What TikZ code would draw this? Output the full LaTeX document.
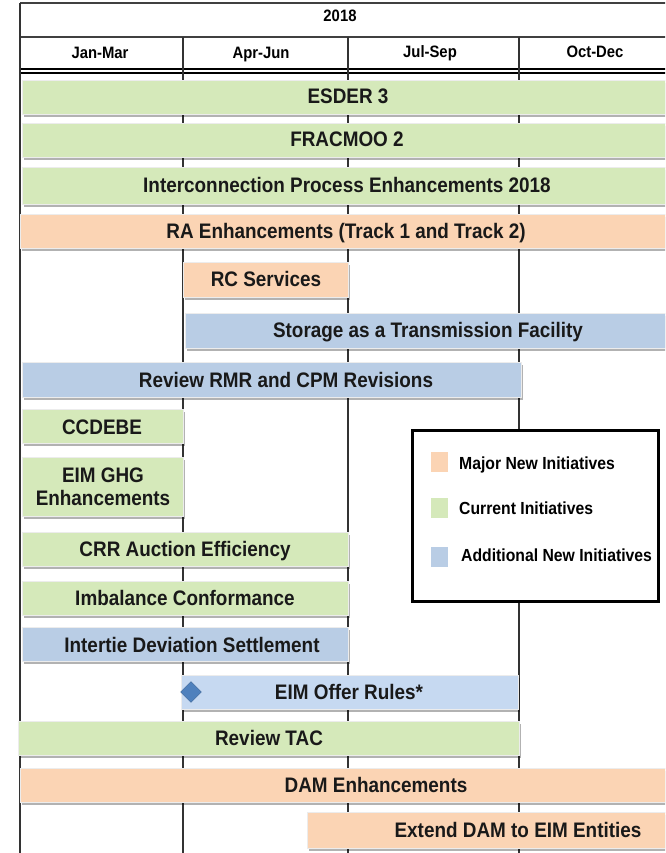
\documentclass[tikz,border=0pt]{standalone}
\usepackage{fontspec}
\setmainfont{Liberation Sans}[FakeStretch=0.9]
\usetikzlibrary{shapes.geometric,shadows}
\definecolor{cgreen}{HTML}{D5E9BA}
\definecolor{corange}{HTML}{FBD4B4}
\definecolor{cblue}{HTML}{B9CDE5}
\definecolor{cblueb}{HTML}{C6D9F1}
\definecolor{cdia}{HTML}{4F81BD}
\tikzset{
  bar/.style={draw=white!85!gray, line width=0.6pt, minimum height=34pt, inner sep=0pt, anchor=north west,
    drop shadow={shadow xshift=2pt, shadow yshift=-3pt, fill=black, opacity=0.3}},
  btxt/.style={font=\bfseries\fontsize{21}{24}\selectfont, inner sep=0pt, text=black!90, anchor=base},
  htxt/.style={font=\bfseries\fontsize{16.5}{19}\selectfont, inner sep=0pt, anchor=base},
  ltxt/.style={font=\bfseries\fontsize{17.5}{20}\selectfont, inner sep=0pt, anchor=base west},
  swatch/.style={minimum width=17pt, minimum height=20pt, inner sep=0pt},
  grid/.style={line width=1.1pt, black!80},
}
\begin{document}
\begin{tikzpicture}[x=1pt,y=-1pt]
\useasboundingbox (0,0) rectangle (665,853);
\begin{scope}
\clip (0,0) rectangle (665,853);
% header
\draw[line width=1.2pt, black!75] (20,3) -- (700,3);
\draw[line width=1.2pt, black!75] (20,37) -- (700,37);
\draw[line width=2pt] (20,69.5) -- (700,69.5);
\draw[line width=1.5pt] (20,73) -- (700,73);
\draw[grid] (20,3) -- (20,853);
\draw[grid] (183,37) -- (183,853);
\draw[grid] (348,37) -- (348,853);
\draw[grid] (519,37) -- (519,853);
\node[htxt] (h2018) at (340,22) {2018};
\node[htxt] (q1) at (100,59) {Jan-Mar};
\node[htxt] (q2) at (261,59) {Apr-Jun};
\node[htxt] (q3) at (430,58) {Jul-Sep};
\node[htxt] (q4) at (595,58) {Oct-Dec};
% bars
\node[bar, fill=cgreen, minimum width=700pt] (b1) at (22,80) {};
\node[btxt] (t1) at (348,104) {ESDER 3};
\node[bar, fill=cgreen, minimum width=700pt] (b2) at (22,123) {};
\node[btxt] (t2) at (347,147) {FRACMOO 2};
\node[bar, fill=cgreen, minimum width=700pt, minimum height=37pt] (b3) at (22,167) {};
\node[btxt] (t3) at (347,193) {Interconnection Process Enhancements 2018};
\node[bar, fill=corange, minimum width=700pt] (b4) at (20,214) {};
\node[btxt] (t4) at (346,238) {RA Enhancements (Track 1 and Track 2)};
\node[bar, fill=corange, minimum width=165pt, minimum height=35pt] (b5) at (183,262) {};
\node[btxt] (t5) at (266,286) {RC Services};
\node[bar, fill=cblue, minimum width=600pt, minimum height=35pt] (b6) at (185,313) {};
\node[btxt] (t6) at (428,337) {Storage as a Transmission Facility};
\node[bar, fill=cblue, minimum width=499pt, minimum height=35pt] (b7) at (22,362) {};
\node[btxt] (t7) at (286,387) {Review RMR and CPM Revisions};
\node[bar, fill=cgreen, minimum width=161pt] (b8) at (22,409) {};
\node[btxt] (t8) at (102,434) {CCDEBE};
\node[bar, fill=cgreen, minimum width=161pt, minimum height=59pt] (b9) at (22,457) {};
\node[btxt] (t9a) at (103,482) {EIM GHG};
\node[btxt] (t9b) at (103,505) {Enhancements};
\node[bar, fill=cgreen, minimum width=326pt] (b10) at (22,532) {};
\node[btxt] (t10) at (185,556) {CRR Auction Efficiency};
\node[bar, fill=cgreen, minimum width=326pt] (b11) at (22,581) {};
\node[btxt] (t11) at (185,605) {Imbalance Conformance};
\node[bar, fill=cblue, minimum width=326pt] (b12) at (22,627) {};
\node[btxt] (t12) at (192,652) {Intertie Deviation Settlement};
\node[bar, fill=cblueb, minimum width=337pt] (b13) at (181,675) {};
\node[btxt] (t13) at (349,699) {EIM Offer Rules*};
\node[diamond, fill=cdia, draw=cdia!80!black, line width=0.4pt, minimum width=21pt, minimum height=21pt, inner sep=0pt] (d13) at (191,692) {};
\node[bar, fill=cgreen, minimum width=501pt] (b14) at (18,721) {};
\node[btxt] (t14) at (269,745) {Review TAC};
\node[bar, fill=corange, minimum width=720pt] (b15) at (20,768) {};
\node[btxt] (t15) at (376,792) {DAM Enhancements};
\node[bar, fill=corange, minimum width=420pt, minimum height=36pt] (b16) at (307,812) {};
\node[btxt] (t16) at (518,837) {Extend DAM to EIM Entities};
% legend
\node[draw=black, line width=2.5pt, fill=white, minimum width=246pt, minimum height=171pt, anchor=north west, inner sep=0pt] (leg) at (411,429) {};
\node[swatch, fill=corange] (s1) at (439.5,462) {};
\node[swatch, fill=cgreen] (s2) at (439.5,508) {};
\node[swatch, fill=cblue] (s3) at (439.5,557) {};
\node[ltxt] (l1) at (459,469) {Major New Initiatives};
\node[ltxt] (l2) at (459,514) {Current Initiatives};
\node[ltxt] (l3) at (461,561.5) {Additional New Initiatives};
\end{scope}
\end{tikzpicture}
\end{document}
